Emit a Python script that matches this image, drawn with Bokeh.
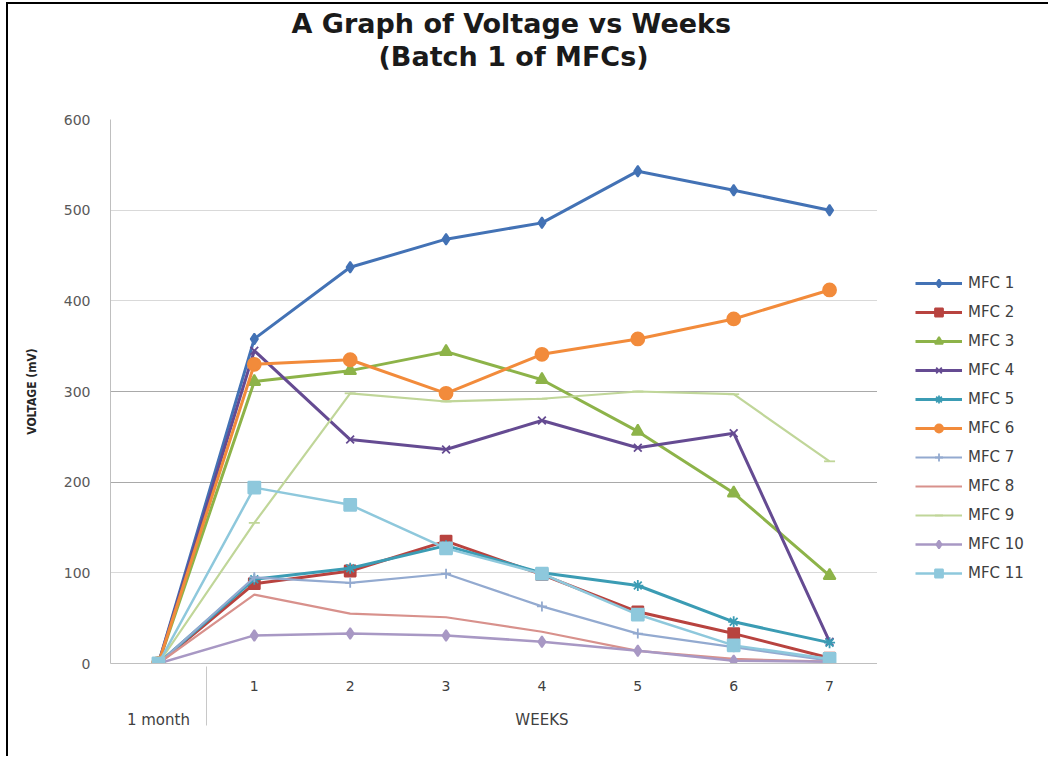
from bokeh.plotting import figure
from bokeh.layouts import row
from bokeh.models import (FactorRange, Range1d, Legend, LegendItem, Title, Grid,
                          FixedTicker)
from bokeh.embed import file_html
from bokeh.resources import INLINE

# ---- data ----
groups = ["1 month", "WEEKS", "WEEKS", "WEEKS", "WEEKS", "WEEKS", "WEEKS", "WEEKS"]
weeks = ["", "1", "2", "3", "4", "5", "6", "7"]

names = ["MFC 1", "MFC 2", "MFC 3", "MFC 4", "MFC 5", "MFC 6",
         "MFC 7", "MFC 8", "MFC 9", "MFC 10", "MFC 11"]

mfc1 = [0, 358, 437, 468, 486, 543, 522, 500]
mfc2 = [0, 88, 102, 135, 98, 57, 33, 6]
mfc3 = [0, 311, 323, 344, 313, 256, 188, 97]
mfc4 = [0, 345, 247, 236, 268, 238, 254, 24]
mfc5 = [0, 93, 105, 130, 100, 86, 46, 23]
mfc6 = [0, 330, 335, 298, 341, 358, 380, 412]
mfc7 = [0, 95, 89, 99, 63, 33, 18, 3]
mfc8 = [0, 76, 55, 51, 35, 14, 5, 2]
mfc9 = [0, 155, 298, 289, 292, 300, 297, 223]
mfc10 = [0, 31, 33, 31, 24, 14, 3, 2]
mfc11 = [0, 194, 175, 127, 99, 54, 20, 5]

values = [mfc1, mfc2, mfc3, mfc4, mfc5, mfc6, mfc7, mfc8, mfc9, mfc10, mfc11]

colors = ["#4372b5", "#b8433f", "#8db349", "#654b92", "#3b9cb4", "#f28b3b",
          "#93aad0", "#d8918c", "#c0d699", "#a898c4", "#8ec8dc"]
markers = ["diamond", "square", "triangle", "x", "asterisk", "circle",
           "cross", None, "dash", "diamond", "square"]
msizes = [11, 11, 12, 11, 11, 13, 10, 0, 11, 11, 12]
lwidths = [3, 3, 3, 3, 3, 3, 2.2, 2.2, 2.2, 2.5, 2.5]

title_main = "A Graph of Voltage vs Weeks"
title_sub = "(Batch 1 of MFCs)"

factors = list(zip(groups, weeks))
x_range = FactorRange(*factors, group_padding=0, factor_padding=0, range_padding=0)
y_range = Range1d(0, 600)

fig = figure(
    x_range=x_range, y_range=y_range,
    width=869, height=752,
    output_backend="svg", toolbar_location=None,
    min_border_left=102, min_border_right=0,
    min_border_top=115, min_border_bottom=93,
    title=title_main,
)
fig.outline_line_color = None
fig.background_fill_color = "white"
fig.border_fill_color = "white"
xax = fig.below[0]
yax = fig.left[0]

# blank spacer title nearest the frame, pushes the two title lines up
spacer = Title(text=" ", text_font_size="12px", standoff=32)
fig.add_layout(spacer, "above")

# titles
fig.title.align = "left"
fig.title.offset = 181
fig.title.text_font = "DejaVu Sans"
fig.title.text_font_size = "27px"
fig.title.text_font_style = "bold"
fig.title.text_color = "#1a1a1a"
fig.title.standoff = 0
t2 = Title(text=title_sub, align="left", offset=268,
           text_font="DejaVu Sans", text_font_size="27px", text_font_style="bold",
           text_color="#1a1a1a", standoff=0)
fig.add_layout(t2, "above")

# grids
fig.xgrid.visible = False
fig.ygrid.ticker = FixedTicker(ticks=[100, 400, 500, 600])
fig.ygrid.grid_line_color = "#d9d9d9"
fig.add_layout(Grid(dimension=1, ticker=FixedTicker(ticks=[200, 300]),
                    grid_line_color="#a9a9a9", grid_line_width=1.2))

# y axis
yax.ticker = FixedTicker(ticks=[0, 100, 200, 300, 400, 500, 600])
yax.axis_line_color = "#bfbfbf"
yax.major_tick_line_color = None
yax.minor_tick_line_color = None
yax.major_tick_out = 0
yax.major_label_standoff = 20
yax.major_label_text_font = "DejaVu Sans"
yax.major_label_text_font_size = "14px"
yax.major_label_text_color = "#595959"
yax.axis_label = "VOLTAGE (mV)"
yax.axis_label_text_font = "DejaVu Sans Condensed"
yax.axis_label_text_font_size = "12px"
yax.axis_label_text_font_style = "bold"
yax.axis_label_text_color = "#262626"
yax.axis_label_standoff = 22

# x axis
xax.axis_line_color = "#bfbfbf"
xax.major_tick_line_color = None
xax.minor_tick_line_color = None
xax.major_tick_out = 0
xax.major_label_standoff = 17
xax.major_label_text_font = "DejaVu Sans"
xax.major_label_text_font_size = "14px"
xax.major_label_text_color = "#404040"
xax.group_text_font = "DejaVu Sans"
xax.group_text_font_size = "15px"
xax.group_text_font_style = "normal"
xax.group_text_color = "#404040"
xax.separator_line_color = "#c8c8c8"
xax.separator_line_width = 1

# series
for name, vals, col, mk, ms, lw in zip(names, values, colors, markers, msizes, lwidths):
    fig.line(x=factors, y=vals, line_color=col, line_width=lw)
    if mk is not None:
        fig.scatter(x=factors, y=vals, marker=mk, size=ms, fill_color=col,
                    line_color=col, line_width=1.8)

# legend panel: a separate figure to the right of the plot frame; its
# renderers use the same data but are hidden, only their legend keys show
leg = figure(width=171, height=752, x_range=x_range, y_range=y_range,
             output_backend="svg", toolbar_location=None, title=None,
             x_axis_type=None, y_axis_type=None,
             min_border_left=0, min_border_right=0, min_border_top=0, min_border_bottom=0)
leg.xgrid.visible = False
leg.ygrid.visible = False
leg.outline_line_color = None
leg.background_fill_color = "white"
leg.border_fill_color = "white"

items = []
for name, vals, col, mk, ms, lw in zip(names, values, colors, markers, msizes, lwidths):
    rl = leg.line(x=factors, y=vals, line_color=col, line_width=lw, visible=False)
    rends = [rl]
    if mk is not None:
        rs = leg.scatter(x=factors, y=vals, marker=mk, size=ms, fill_color=col,
                         line_color=col, line_width=1.8, visible=False)
        rends.append(rs)
    items.append(LegendItem(label=name, renderers=rends))

legend = Legend(items=items, location=(38, 80), glyph_width=47, glyph_height=20,
                label_height=20, spacing=9, padding=0, margin=0, label_standoff=6,
                border_line_color=None, background_fill_alpha=0,
                label_text_font="DejaVu Sans", label_text_font_size="15px",
                label_text_color="#404040")
leg.add_layout(legend, "center")

p = row(fig, leg)
p.margin = (2, 0, 0, 6)
p.styles = {"border-left": "2px solid #000", "border-top": "2px solid #000"}

open("out.html", "w").write(file_html(p, INLINE))
